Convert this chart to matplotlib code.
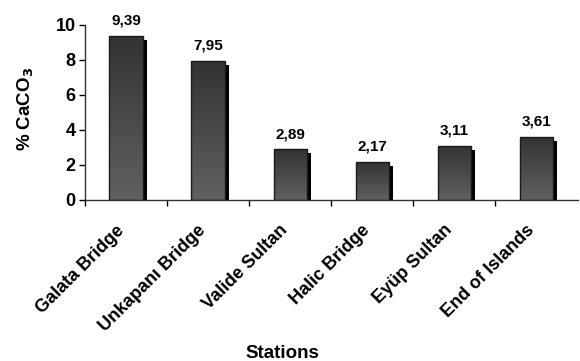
import numpy as np
import matplotlib
matplotlib.use('Agg')
import matplotlib.pyplot as plt
import matplotlib.transforms as mtransforms

plt.rcParams['font.family'] = ['Liberation Sans', 'DejaVu Sans']
plt.rcParams['font.weight'] = 'bold'

# Data
stations = ['Galata Bridge', 'Unkapanı Bridge', 'Valide Sultan',
            'Halic Bridge', 'Eyüp Sultan', 'End of Islands']
caco3 = [9.39, 7.95, 2.89, 2.17, 3.11, 3.61]
value_labels = ['9,39', '7,95', '2,89', '2,17', '3,11', '3,61']
y_ticks = [0, 2, 4, 6, 8, 10]

fig = plt.figure(figsize=(5.8, 3.61), dpi=100)
ax = fig.add_axes([0.147, 0.446, 0.85, 0.485])

x = np.arange(len(stations))
width = 0.41

# black shadow bars, shifted right and down a few pixels
shadow = mtransforms.offset_copy(ax.transData, fig=fig, x=4, y=-4, units='dots')
ax.bar(x, caco3, width, color='black', transform=shadow, zorder=1)

# front bars with a vertical grey gradient
bars = ax.bar(x, caco3, width, facecolor='none', edgecolor='#1a1a1a',
              linewidth=1.0, zorder=3)
grad = np.linspace(0.2, 0.38, 256).reshape(-1, 1)
for b in bars:
    x0, y0 = b.get_x(), b.get_y()
    im = ax.imshow(grad, cmap='gray', vmin=0, vmax=1, aspect='auto',
                   extent=[x0, x0 + b.get_width(), y0, y0 + b.get_height()],
                   origin='upper', zorder=2, interpolation='bicubic')
    im.set_clip_path(b)

for xi, v, lab in zip(x, caco3, value_labels):
    ax.annotate(lab, (xi, v), xytext=(0, 8), textcoords='offset points',
                ha='center', va='baseline', fontsize=11, fontweight='bold')

ax.set_xlim(-0.5, len(stations) - 0.5 + 0.01)
ax.set_ylim(0, 10)
ax.set_yticks(y_ticks)
ax.set_yticklabels([str(t) for t in y_ticks], fontsize=13, fontweight='bold')

# ticks between categories, labels at the centres
ax.set_xticks(np.arange(len(stations)) - 0.5)
ax.set_xticklabels([])
ax.set_xticks(x, minor=True)
ax.set_xticklabels(stations, minor=True, rotation=45, ha='right', va='center',
                   rotation_mode='anchor', fontsize=13, fontweight='bold')
ax.tick_params(axis='x', which='minor', length=0, pad=20)
ax.tick_params(axis='x', which='major', length=4, width=1, direction='out')
ax.tick_params(axis='y', length=4, width=1, direction='out', pad=3)
# nudge the slanted labels a little to the left
shift = mtransforms.ScaledTranslation(-5 / 100, 0, fig.dpi_scale_trans)
for lbl in ax.get_xticklabels(minor=True):
    lbl.set_transform(lbl.get_transform() + shift)

for s in ['top', 'right']:
    ax.spines[s].set_visible(False)
for s in ['left', 'bottom']:
    ax.spines[s].set_color('#333333')
    ax.spines[s].set_linewidth(1.0)

ax.set_ylabel('% CaCO$_3$', fontsize=13.5, fontweight='bold')
ax.yaxis.set_label_coords(-0.1, 0.52)
ax.set_xlabel('Stations', fontsize=13.5, fontweight='bold')
ax.xaxis.set_label_coords(0.40, -0.83)

fig.savefig('out.png', dpi=100)
